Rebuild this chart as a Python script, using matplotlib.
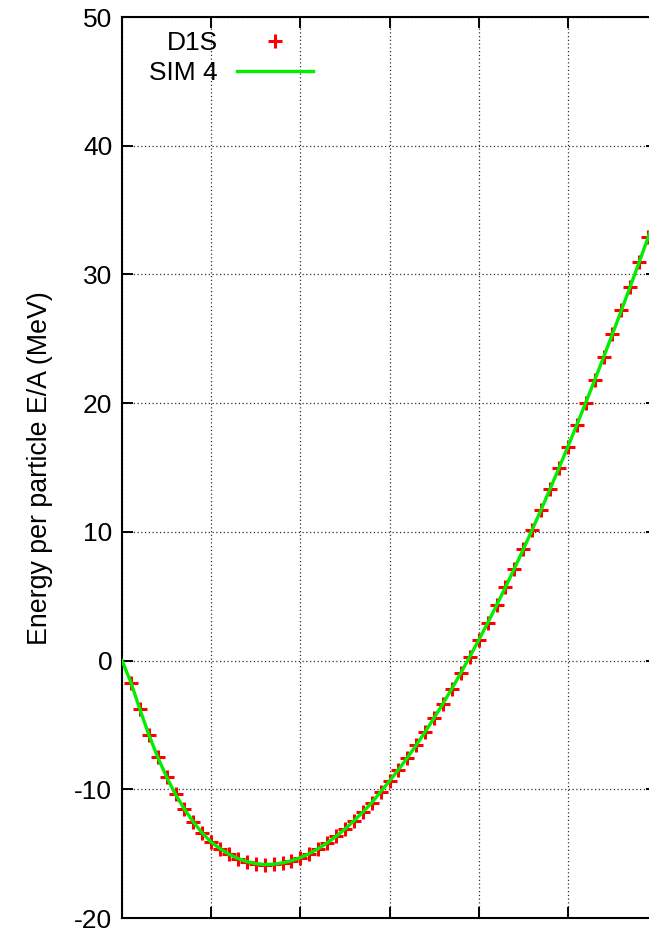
import numpy as np
import matplotlib
matplotlib.use("Agg")
import matplotlib.pyplot as plt

plt.rcParams["font.family"] = ["Liberation Sans", "DejaVu Sans"]
plt.rcParams["axes.unicode_minus"] = False

# ======================
# data
# ======================
# density (fm^-3) of the D1S points
d1s_rho = [0.01, 0.02, 0.03, 0.04, 0.05, 0.06, 0.07, 0.08, 0.09, 0.10,
           0.11, 0.12, 0.13, 0.14, 0.15, 0.16, 0.17, 0.18, 0.19, 0.20,
           0.21, 0.22, 0.23, 0.24, 0.25, 0.26, 0.27, 0.28, 0.29, 0.30,
           0.31, 0.32, 0.33, 0.34, 0.35, 0.36, 0.37, 0.38, 0.39, 0.40,
           0.41, 0.42, 0.43, 0.44, 0.45, 0.46, 0.47, 0.48, 0.49, 0.50,
           0.51, 0.52, 0.53, 0.54, 0.55, 0.56, 0.57, 0.58, 0.59]
d1s_e = [-1.75, -3.80, -5.75, -7.50, -9.05, -10.40, -11.55, -12.55, -13.40, -14.10,
         -14.62, -15.05, -15.38, -15.62, -15.78, -15.85, -15.82, -15.72, -15.55, -15.31,
         -15.00, -14.62, -14.17, -13.66, -13.09, -12.46, -11.78, -11.05, -10.20, -9.36,
         -8.48, -7.55, -6.57, -5.54, -4.46, -3.34, -2.17, -0.96, 0.29, 1.58,
         2.91, 4.28, 5.69, 7.14, 8.63, 10.16, 11.72, 13.32, 14.95, 16.61,
         18.30, 20.02, 21.77, 23.55, 25.36, 27.20, 29.06, 30.95, 32.87]

# SIM 4 curve
sim_rho = [0.00, 0.01, 0.02, 0.03, 0.04, 0.05, 0.06, 0.07, 0.08, 0.09, 0.10,
           0.11, 0.12, 0.13, 0.14, 0.15, 0.16, 0.17, 0.18, 0.19, 0.20,
           0.21, 0.22, 0.23, 0.24, 0.25, 0.26, 0.27, 0.28, 0.29, 0.30,
           0.31, 0.32, 0.33, 0.34, 0.35, 0.36, 0.37, 0.38, 0.39, 0.40,
           0.41, 0.42, 0.43, 0.44, 0.45, 0.46, 0.47, 0.48, 0.49, 0.50,
           0.51, 0.52, 0.53, 0.54, 0.55, 0.56, 0.57, 0.58, 0.59, 0.60]
sim_e = [0.00, -1.70, -3.78, -5.74, -7.49, -9.04, -10.39, -11.54, -12.54, -13.40, -14.10,
         -14.62, -15.05, -15.38, -15.62, -15.78, -15.85, -15.82, -15.72, -15.55, -15.31,
         -15.00, -14.62, -14.17, -13.66, -13.09, -12.46, -11.78, -11.05, -10.20, -9.36,
         -8.48, -7.55, -6.57, -5.54, -4.46, -3.34, -2.17, -0.96, 0.29, 1.58,
         2.91, 4.28, 5.69, 7.14, 8.63, 10.16, 11.72, 13.32, 14.95, 16.61,
         18.30, 20.02, 21.77, 23.55, 25.36, 27.20, 29.06, 30.95, 32.87, 34.82]

x_ticks = [0.0, 0.1, 0.2, 0.3, 0.4, 0.5, 0.6]
y_ticks = [-20, -10, 0, 10, 20, 30, 40, 50]

# ======================
# figure
# ======================
W, H = 649, 932
fig = plt.figure(figsize=(W / 100, H / 100), dpi=100)
# axes runs a bit past the right edge of the picture
ax = fig.add_axes([122 / W, 1 - 918 / H, 535 / W, 901 / H])

ax.plot(d1s_rho, d1s_e, linestyle="none", marker="+", color="#ff0000",
        markersize=9.5, markeredgewidth=2.2, label="D1S", zorder=3)
ax.plot(sim_rho, sim_e, color="#00ee00", linewidth=2.4, label="SIM 4", zorder=4)

ax.set_xlim(0, 0.6)
ax.set_ylim(-20, 50)
ax.set_xticks(x_ticks)
ax.set_yticks(y_ticks)
ax.set_xticklabels([])

ax.tick_params(direction="in", length=8, width=1.4, top=True, right=True,
               labelsize=19, pad=7)
for s in ax.spines.values():
    s.set_linewidth(1.5)

ax.grid(True, color="0.2", linestyle=(0, (1, 2)), linewidth=0.9)

fig.text(40 / W, 1 - 468 / H, "Energy per particle E/A (MeV)", rotation=90,
         ha="center", va="center", fontsize=19.3)

leg = ax.legend(loc="upper right", bbox_to_anchor=(313 / W, 1 - 31 / H),
                bbox_transform=fig.transFigure, frameon=False, markerfirst=False,
                fontsize=19, handlelength=2.88, handletextpad=0.72,
                labelspacing=0.22, borderpad=0, borderaxespad=0)

fig.savefig("out.png", dpi=100)
